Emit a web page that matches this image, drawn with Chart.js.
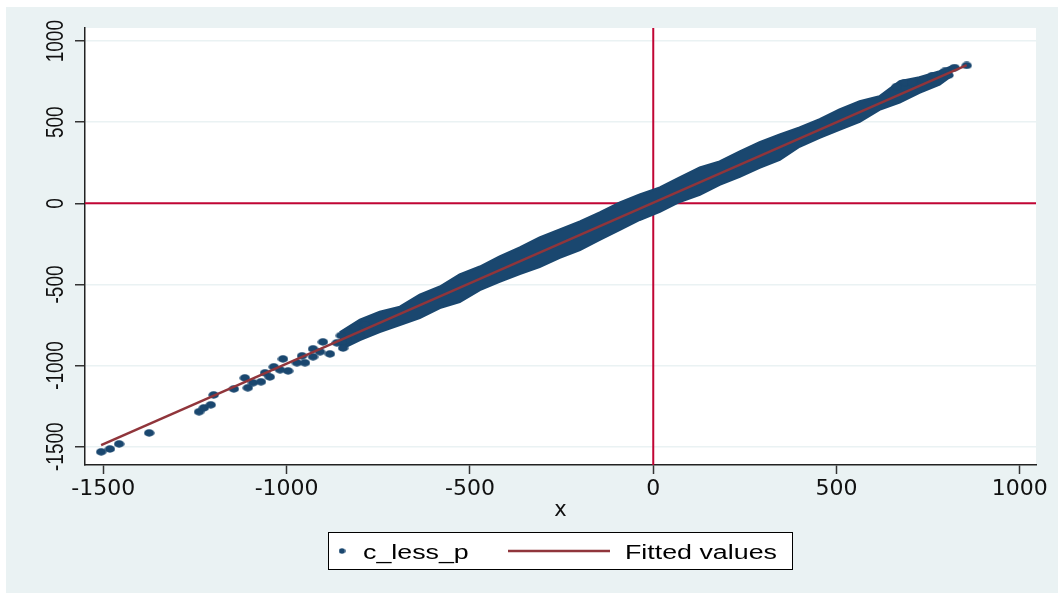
<!DOCTYPE html>
<html lang="en">
<head>
  <meta charset="UTF-8" />
  <title>c_less_p vs x</title>
  <script src="https://cdn.jsdelivr.net/npm/chart.js"></script>
  <style>
    html, body { margin: 0; padding: 0; background: #fff; }
    #wrap { width: 1058px; height: 593px; }
  </style>
</head>
<body>
  <div id="wrap"><canvas id="scatterChart" width="1058" height="593"></canvas></div>

  <script>
    // axis setup
    const xTicks = [-1500, -1000, -500, 0, 500, 1000];
    const yTicks = [-1500, -1000, -500, 0, 500, 1000];
    const xRange = [-1550, 1044];
    const yRange = [-1613, 1081];

    // sparse lower tail of c_less_p
    const tailX = [-1506, -1482, -1457, -1375, -1239, -1226, -1207, -1199, -1144, -1114, -1106, -1092, -1070, -1059, -1046, -1035,
                   -1018, -1010, -996, -972, -958, -950, -928, -928, -909, -901, -882, -863, -836, -814, -800, -787,
                   -852, -850, -846];
    const tailY = [-1532, -1514, -1483, -1415, -1285, -1261, -1242, -1181, -1144, -1076, -1137, -1106, -1100, -1045, -1070, -1008,
                   -1026, -959, -1033, -983, -940, -983, -946, -897, -915, -854, -928, -860, -841, -767, -817, -749,
                   -815, -858, -892];

    // upper end of c_less_p
    const headX = [664, 686, 706, 735, 762, 795, 805, 822, 855];
    const headY = [720, 744, 744, 763, 788, 813, 790, 837, 850];

    // dense part of c_less_p: outer edges of the cloud
    const bandX = [-855, -800, -746, -691, -637, -582, -528, -473, -419, -364, -310, -255, -200, -146, -91, -37,
                   18, 72, 127, 181, 236, 290, 345, 399, 454, 508, 563, 617, 672, 726, 781, 816];
    const bandUpper = [-797, -718, -669, -638, -564, -514, -440, -391, -329, -273, -212, -162, -113, -57, 4, 54,
                       97, 159, 220, 257, 319, 375, 424, 467, 517, 578, 628, 659, 751, 776, 813, 846];
    const bandLower = [-902, -841, -792, -749, -706, -644, -607, -533, -483, -434, -391, -335, -286, -224, -162, -101,
                       -51, 10, 54, 115, 165, 220, 270, 350, 405, 455, 504, 578, 622, 683, 733, 792];

    // fitted values
    const fitX = [-1506, 855];
    const fitY = [-1490, 852];

    // reference lines at zero
    const zeroLineX = [0, 0];
    const zeroLineY = [0, 0];

    const navy = '#1A476F';
    const maroon = '#90353B';
    const cranberry = '#C10534';
    const stataBg = '#EAF2F3';
    const tickFont = '"DejaVu Sans", sans-serif';
    const stretchFont = '"Liberation Sans", Arial, sans-serif';

    const pts = (xs, ys) => xs.map((x, i) => ({ x: x, y: ys[i] }));

    // oval marker like the stretched stata dots
    function ovalMarker(w, h) {
      const c = document.createElement('canvas');
      c.width = w; c.height = h;
      const g = c.getContext('2d');
      g.fillStyle = navy;
      g.beginPath();
      g.ellipse(w / 2, h / 2, w / 2 - 0.3, h / 2 - 0.3, 0, 0, Math.PI * 2);
      g.fill();
      return c;
    }
    const dot = ovalMarker(11, 8);

    const stataFrame = {
      id: 'stataFrame',
      beforeDraw(chart) {
        const ctx = chart.ctx;
        const a = chart.chartArea;
        ctx.save();
        ctx.fillStyle = '#fff';
        ctx.fillRect(0, 0, chart.width, chart.height);
        ctx.fillStyle = stataBg;
        ctx.fillRect(6, 7, chart.width - 6, chart.height - 7);
        ctx.fillStyle = '#fff';
        ctx.fillRect(a.left, a.top, a.right - a.left, a.bottom - a.top);
        ctx.restore();
      },
      afterDraw(chart) {
        const ctx = chart.ctx;
        const ys = chart.scales.y;
        ctx.save();

        // vertical y tick labels, read bottom to top
        ctx.fillStyle = '#111';
        ctx.font = '19px ' + stretchFont;
        ctx.textAlign = 'center';
        ctx.textBaseline = 'middle';
        yTicks.forEach(v => {
          ctx.save();
          ctx.translate(56, ys.getPixelForValue(v));
          ctx.scale(1.3, 1);
          ctx.rotate(-Math.PI / 2);
          ctx.fillText(String(v), 0, 0);
          ctx.restore();
        });

        // legend box
        ctx.fillStyle = '#fff';
        ctx.fillRect(328, 532, 464, 37);
        ctx.strokeStyle = '#000';
        ctx.lineWidth = 1;
        ctx.strokeRect(328.5, 532.5, 464, 37);

        const small = ovalMarker(7, 6);
        ctx.drawImage(small, 342 - 3.5, 551 - 3);

        ctx.strokeStyle = maroon;
        ctx.lineWidth = 2.5;
        ctx.beginPath();
        ctx.moveTo(508, 551);
        ctx.lineTo(610, 551);
        ctx.stroke();

        ctx.fillStyle = '#000';
        ctx.font = '20px ' + stretchFont;
        ctx.textAlign = 'left';
        ctx.textBaseline = 'alphabetic';
        [['c_less_p', 363], ['Fitted values', 625]].forEach(([t, x]) => {
          ctx.save();
          ctx.translate(x, 559);
          ctx.scale(1.34, 1);
          ctx.fillText(t, 0, 0);
          ctx.restore();
        });
        ctx.restore();
      }
    };

    const ctx = document.getElementById('scatterChart').getContext('2d');
    new Chart(ctx, {
      type: 'scatter',
      data: {
        datasets: [
          {
            label: 'Fitted values',
            data: pts(fitX, fitY),
            showLine: true,
            borderColor: maroon,
            borderWidth: 2.5,
            pointRadius: 0,
            order: 0
          },
          {
            label: 'c_less_p',
            data: pts(tailX, tailY).concat(pts(headX, headY)),
            pointStyle: dot,
            pointRadius: 4,
            order: 1
          },
          {
            label: 'band_top',
            data: pts(bandX, bandUpper),
            showLine: true,
            borderColor: navy,
            borderWidth: 2.5,
            backgroundColor: navy,
            pointRadius: 0,
            fill: '+1',
            order: 2
          },
          {
            label: 'band_bottom',
            data: pts(bandX, bandLower),
            showLine: true,
            borderColor: navy,
            borderWidth: 2.5,
            pointRadius: 0,
            fill: false,
            order: 3
          },
          {
            label: 'yline',
            data: pts(xRange, zeroLineY),
            showLine: true,
            borderColor: cranberry,
            borderWidth: 2,
            pointRadius: 0,
            order: 4
          },
          {
            label: 'xline',
            data: pts(zeroLineX, yRange),
            showLine: true,
            borderColor: cranberry,
            borderWidth: 2,
            pointRadius: 0,
            order: 5
          }
        ]
      },
      options: {
        responsive: false,
        animation: false,
        devicePixelRatio: 1,
        layout: { padding: { top: 28, right: 22, left: 0, bottom: 0 } },
        plugins: {
          legend: { display: false },
          tooltip: { enabled: false }
        },
        scales: {
          x: {
            type: 'linear',
            min: xRange[0],
            max: xRange[1],
            afterBuildTicks: s => { s.ticks = xTicks.map(v => ({ value: v })); },
            afterFit: s => { s.height = 128; },
            border: { display: true, color: '#222', width: 1.5 },
            grid: { drawOnChartArea: false, drawTicks: true, tickLength: 9, tickColor: '#333', tickWidth: 1.5 },
            ticks: {
              color: '#111',
              padding: 2,
              maxRotation: 0,
              callback: v => String(v),
              font: { family: tickFont, size: 22 }
            },
            title: {
              display: true,
              text: 'x',
              color: '#111',
              font: { family: tickFont, size: 21 },
              padding: { top: 0, bottom: 70 }
            }
          },
          y: {
            type: 'linear',
            min: yRange[0],
            max: yRange[1],
            afterBuildTicks: s => { s.ticks = yTicks.map(v => ({ value: v })); },
            afterFit: s => { s.width = 85; },
            border: { display: true, color: '#222', width: 1.5 },
            grid: { color: stataBg, lineWidth: 1.5, drawTicks: true, tickLength: 10, tickColor: '#333', tickWidth: 1.5 },
            ticks: { display: false }
          }
        }
      },
      plugins: [stataFrame]
    });
  </script>
</body>
</html>
